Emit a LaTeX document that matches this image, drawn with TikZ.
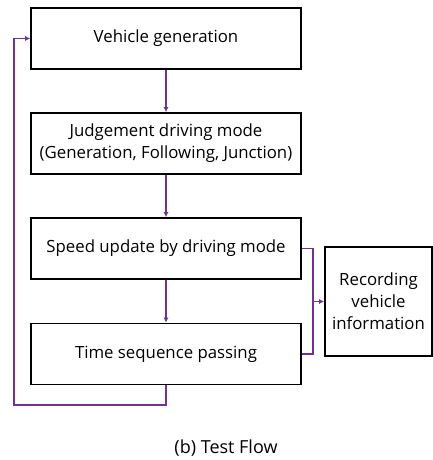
\documentclass[tikz,border=0pt]{standalone}
\usepackage{fontspec}
\setmainfont{Open Sans}
\usetikzlibrary{
  arrows.meta,  % Latex arrow tips
  positioning   % relative placement
}
\definecolor{flowpurple}{HTML}{7030A0}
\tikzset{
  step box/.style={
    draw=black,
    line width=1.6pt,
    minimum width=270pt,
    minimum height=61pt,
    inner sep=0pt,
    align=center,
    font=\fontsize{16.8}{22}\selectfont
  },
  flow line/.style={
    draw=flowpurple,
    line width=1.8pt
  },
  flow arrow/.style={
    flow line,
    -{Latex[length=5pt,width=5pt]}
  }
}

\begin{document}
\begin{tikzpicture}[x=1pt, y=-1pt]
    \useasboundingbox (0,0) rectangle (433,460);

    % --- main steps ---
    \node[step box] (gen)      at (166,38.5)  {Vehicle generation};
    \node[step box] (judge)    at (166,143.5) {Judgement driving mode\\(Generation, Following, Junction)};
    \node[step box] (speed)    at (166,248.5) {Speed update by driving mode};
    \node[step box] (timepass) at (166,354)   {Time sequence passing};

    % --- side box ---
    \node[step box, minimum width=107pt, minimum height=109pt] (record) at (378.5,301.5)
      {Recording\\vehicle\\information};

    % --- connectors ---
    \draw[flow arrow] (gen) -- (judge);
    \draw[flow arrow] (judge) -- (speed);
    \draw[flow arrow] (speed) -- (timepass);

    % merge into record
    \coordinate (merge) at (313,301.5);
    \draw[flow line] (speed.east) -| (merge) |- (timepass.east);
    \draw[flow arrow] (merge) -- (record);

    % loop back to the top
    \coordinate (loop) at (14,405);
    \draw[flow arrow] (timepass.south) |- (loop) |- (gen.west);

    \node[font=\fontsize{18}{22}\selectfont] (caption) at (226,448) {(b) Test Flow};
\end{tikzpicture}
\end{document}
